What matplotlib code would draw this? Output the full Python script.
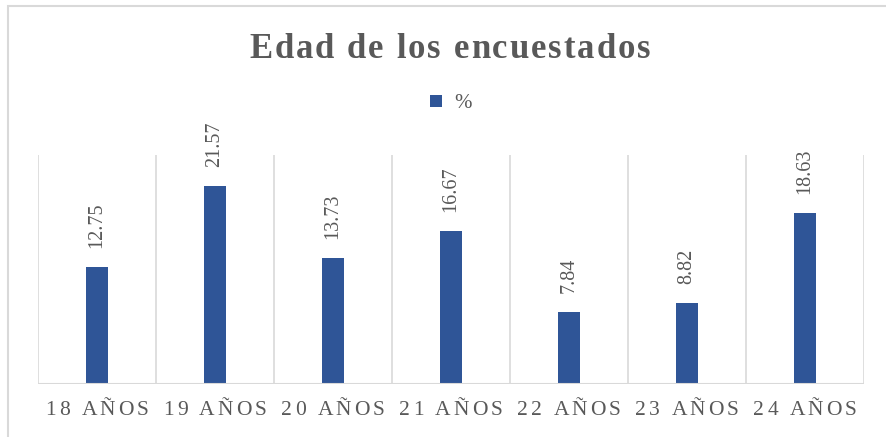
import numpy as np
import matplotlib
matplotlib.use("Agg")
import matplotlib.pyplot as plt
from matplotlib.patches import Rectangle
from matplotlib.transforms import IdentityTransform

# datos
edades = ["18 AÑOS", "19 AÑOS", "20 AÑOS", "21 AÑOS", "22 AÑOS", "23 AÑOS", "24 AÑOS"]
porcentajes = [12.75, 21.57, 13.73, 16.67, 7.84, 8.82, 18.63]
titulo = "Edad de los encuestados"
serie = "%"

AZUL = "#2f5597"
GRIS = "#595959"
LINEA = "#d9d9d9"
FUENTE = "Liberation Serif"

W, H = 886, 437
fig = plt.figure(figsize=(W / 100, H / 100), dpi=100)
ax = fig.add_axes([38 / W, 53 / H, 826 / W, 229 / H])

x = np.arange(len(edades))
ax.bar(x, porcentajes, width=0.19, color=AZUL, zorder=3, label=serie)
ax.set_xlim(-0.5, len(edades) - 0.5)
ax.set_ylim(0, 25)

for sp in ax.spines.values():
    sp.set_visible(False)
ax.set_xticks(np.arange(-0.5, len(edades)), minor=True)
ax.set_xticks([])
ax.set_yticks([])
ax.tick_params(which="both", length=0)
ax.grid(which="minor", axis="x", color=LINEA, lw=1.2, zorder=0)
ax.axhline(0, color=LINEA, lw=1.5, zorder=4)

# etiquetas de datos (giradas)
for xi, v in zip(x, porcentajes):
    ax.annotate(f"{v:.2f}", (xi, v), xytext=(0, 14), textcoords="offset points",
                rotation=90, ha="center", va="bottom", fontsize=14.5,
                family=FUENTE, color=GRIS)

renderer = fig.canvas.get_renderer()


def ancho(s, **kw):
    t = fig.text(0, 0, s, transform=IdentityTransform(), **kw)
    w = t.get_window_extent(renderer).width
    t.remove()
    return w


def texto_espaciado(xc, yb, s, esp, **kw):
    base = ancho("H", **kw)
    avances = [ancho("H" + c, **kw) - base for c in s]
    total = sum(avances) + esp * (len(s) - 1)
    xi = xc - total / 2
    for c, a in zip(s, avances):
        fig.text(xi, yb, c, transform=IdentityTransform(), ha="left",
                 va="baseline", **kw)
        xi += a + esp


# etiquetas del eje x
for xi, etiqueta in zip(x, edades):
    xp = ax.transData.transform((xi, 0))[0]
    texto_espaciado(xp, H - 415, etiqueta, 3.0, fontsize=15.5, family=FUENTE, color=GRIS)

# titulo
texto_espaciado(450, H - 58, titulo, 2.0, fontsize=25, family=FUENTE,
                fontweight="bold", color=GRIS)

# leyenda
fig.legend(loc="center", bbox_to_anchor=(451 / W, 1 - 104 / H), frameon=False,
           handlelength=0.55, handleheight=0.55, handletextpad=0.6,
           prop={"family": FUENTE, "size": 15}, labelcolor=GRIS)

# marco exterior
fig.patches.append(Rectangle((8 / W, -0.1), 1.2, 1 - 6.5 / H + 0.1,
                             transform=fig.transFigure, fill=False,
                             ec=LINEA, lw=1.5))

fig.savefig("out.png", dpi=100)
